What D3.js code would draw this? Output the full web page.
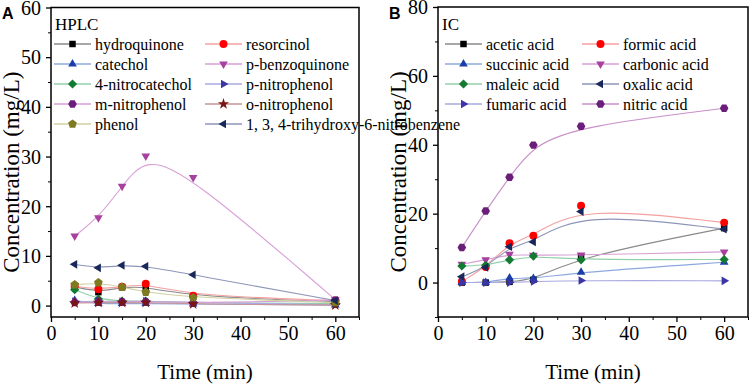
<!DOCTYPE html>
<html>
<head>
<meta charset="utf-8">
<script src="https://cdn.jsdelivr.net/npm/d3@7"></script>
<style>
  body { margin: 0; background: #fff; }
  svg { display: block; }
</style>
</head>
<body>
<svg id="chart" width="750" height="385"></svg>
<script>
// time points (min)
const timesA = [5, 10, 15, 20, 30, 60];
const timesB = [5, 10, 15, 20, 30, 60];

// panel A - HPLC (mg/L)
const hydroquinone = [3.8, 2.7, 3.7, 3.8, 1.8, 0.8];
const resorcinol = [3.9, 3.3, 3.8, 4.4, 2.0, 1.0];
const catechol = [1.0, 0.4, 0.4, 0.4, 0.3, 0.1];
const pBenzoquinone = [14.0, 17.7, 24.0, 30.1, 25.8, 1.2];
const nitrocatechol = [3.2, 1.3, 0.9, 0.9, 0.6, 0.4];
const pNitrophenol = [0.8, 0.9, 0.8, 0.9, 0.6, 0.2];
const mNitrophenol = [0.6, 0.7, 0.7, 0.8, 0.5, 1.1];
const oNitrophenol = [0.5, 0.6, 0.6, 0.6, 0.3, 0.1];
const phenol = [4.2, 4.6, 3.7, 2.7, 1.6, 0.6];
const trihydroxy = [8.3, 7.6, 8.1, 7.9, 6.2, 1.0];

// panel B - IC (mg/L)
const aceticAcid = [0, 0, 0.2, 0.8, 7.6, 15.8];
const formicAcid = [0.3, 4.5, 11.4, 13.6, 22.3, 17.4];
const succinicAcid = [0, 0, 1.3, 1.2, 3.0, 5.9];
const carbonicAcid = [5.3, 6.6, 8.2, 7.9, 8.0, 8.9];
const maleicAcid = [4.8, 5.0, 6.6, 7.7, 6.6, 6.7];
const oxalicAcid = [1.7, 4.4, 10.4, 11.8, 20.6, 15.5];
const fumaricAcid = [0, 0, 0, 0.3, 0.6, 0.5];
const nitricAcid = [10.2, 20.8, 30.6, 39.9, 45.4, 50.6];

const xTicks = [0, 10, 20, 30, 40, 50, 60];
const yTicksA = [0, 10, 20, 30, 40, 50, 60];
const yTicksB = [0, 20, 40, 60, 80];

const seriesA = [
  { name: 'hydroquinone', values: hydroquinone, shape: 'square', fill: '#000000', line: '#8a8a8a' },
  { name: 'resorcinol', values: resorcinol, shape: 'circle', fill: '#ff0000', line: '#f4a0a0' },
  { name: 'catechol', values: catechol, shape: 'up', fill: '#1a3ea8', line: '#8ea8de' },
  { name: 'p-benzoquinone', values: pBenzoquinone, shape: 'down', fill: '#a8409e', line: '#d8a0d6' },
  { name: '4-nitrocatechol', values: nitrocatechol, shape: 'diamond', fill: '#137a32', line: '#92d0aa' },
  { name: 'p-nitrophenol', values: pNitrophenol, shape: 'right', fill: '#3b35a6', line: '#aaa8e0' },
  { name: 'm-nitrophenol', values: mNitrophenol, shape: 'hex', fill: '#6b1d7a', line: '#d89ed6' },
  { name: 'o-nitrophenol', values: oNitrophenol, shape: 'star', fill: '#7a1414', line: '#c89494' },
  { name: 'phenol', values: phenol, shape: 'pent', fill: '#7d7a22', line: '#d0d0a2' },
  { name: '1, 3, 4-trihydroxy-6-nitrobenzene', values: trihydroxy, shape: 'left', fill: '#18285a', line: '#8e96b8' }
];

const seriesB = [
  { name: 'acetic acid', values: aceticAcid, shape: 'square', fill: '#000000', line: '#8a8a8a' },
  { name: 'formic acid', values: formicAcid, shape: 'circle', fill: '#ff0000', line: '#f4a0a0' },
  { name: 'succinic acid', values: succinicAcid, shape: 'up', fill: '#1a3ea8', line: '#8ea8de' },
  { name: 'carbonic acid', values: carbonicAcid, shape: 'down', fill: '#a8409e', line: '#d8a0d6' },
  { name: 'maleic acid', values: maleicAcid, shape: 'diamond', fill: '#137a32', line: '#92d0aa' },
  { name: 'oxalic acid', values: oxalicAcid, shape: 'left', fill: '#18285a', line: '#8e96b8' },
  { name: 'fumaric acid', values: fumaricAcid, shape: 'right', fill: '#3b35a6', line: '#aaa8e0' },
  { name: 'nitric acid', values: nitricAcid, shape: 'hex', fill: '#6b1d7a', line: '#c890c8' }
];

const svg = d3.select('#chart');
// one quoted family each: fallback lists did not resolve here
const SERIF = '"Liberation Serif"';
const SANS = '"Liberation Sans"';

// regular polygon marker path, r = radius, rot = start angle
function poly(n, r, rot) {
  const pts = d3.range(n).map(i => {
    const a = rot + i * 2 * Math.PI / n;
    return [r * Math.cos(a), r * Math.sin(a)];
  });
  return 'M' + pts.map(p => p.join(',')).join('L') + 'Z';
}

function markerPath(shape) {
  switch (shape) {
    case 'square': return d3.symbol(d3.symbolSquare, 42)();
    case 'circle': return d3.symbol(d3.symbolCircle, 50)();
    case 'diamond': return poly(4, 4.6, -Math.PI / 2);
    case 'star': return d3.symbol(d3.symbolStar, 40)();
    case 'up': return poly(3, 5, -Math.PI / 2);
    case 'down': return poly(3, 5, Math.PI / 2);
    case 'left': return poly(3, 5, Math.PI);
    case 'right': return poly(3, 5, 0);
    case 'hex': return poly(6, 4.3, 0);
    case 'pent': return poly(5, 4.6, -Math.PI / 2);
  }
}

function drawPanel(p) {
  const x = d3.scaleLinear().domain([0, 65]).range([p.left, p.right]);
  const y = d3.scaleLinear().domain(p.yDomain).range([p.bottom, p.top]);
  const g = svg.append('g');

  // data lines (Origin B-spline)
  const line = d3.line().x(d => x(d[0])).y(d => y(d[1])).curve(d3.curveBasis);
  p.series.forEach(s => {
    g.append('path')
      .attr('d', line(p.times.map((t, i) => [t, s.values[i]])))
      .attr('fill', 'none').attr('stroke', s.line).attr('stroke-width', 1.1);
  });
  p.series.forEach(s => {
    g.selectAll(null).data(p.times.map((t, i) => [t, s.values[i]])).enter().append('path')
      .attr('transform', d => `translate(${x(d[0])},${y(d[1])})`)
      .attr('d', markerPath(s.shape))
      .attr('fill', s.fill);
  });

  // frame
  g.append('rect')
    .attr('x', p.left).attr('y', p.top)
    .attr('width', p.right - p.left).attr('height', p.bottom - p.top)
    .attr('fill', 'none').attr('stroke', '#000').attr('stroke-width', 1.5);

  // axes
  const xAxis = g.append('g').attr('transform', `translate(0,${p.bottom})`)
    .call(d3.axisBottom(x).tickValues(xTicks).tickSize(5).tickSizeOuter(0).tickPadding(4));
  const yAxis = g.append('g').attr('transform', `translate(${p.left},0)`)
    .call(d3.axisLeft(y).tickValues(p.yTicks).tickSize(5).tickSizeOuter(0).tickPadding(5));
  [xAxis, yAxis].forEach(a => {
    a.attr('font-family', null).attr('font-size', null);
    a.select('.domain').remove();
    a.selectAll('line').attr('stroke-width', 1.3);
    a.selectAll('text').style('font-family', SERIF).style('font-size', '20px').attr('fill', '#000');
  });
  yAxis.selectAll('text').attr('dy', '0.34em');

  // minor ticks
  g.append('g').attr('transform', `translate(0,${p.bottom})`)
    .call(d3.axisBottom(x).tickValues(d3.range(5, 66, 10)).tickSize(3).tickSizeOuter(0).tickFormat(''))
    .call(a => a.select('.domain').remove());
  g.append('g').attr('transform', `translate(${p.left},0)`)
    .call(d3.axisLeft(y).tickValues(p.yMinor).tickSize(3).tickSizeOuter(0).tickFormat(''))
    .call(a => a.select('.domain').remove());

  // axis titles
  g.append('text')
    .attr('x', (p.left + p.right) / 2).attr('y', 379)
    .attr('text-anchor', 'middle')
    .style('font-family', SERIF).style('font-size', '21px').text('Time (min)');
  g.append('text')
    .attr('transform', `translate(${p.left - 32},${(p.top + p.bottom) / 2 + 10}) rotate(-90)`)
    .attr('text-anchor', 'middle')
    .style('font-family', SERIF).style('font-size', '23px').text('Concentration (mg/L)');

  // panel letter
  g.append('text')
    .attr('x', p.left - 49).attr('y', 19)
    .style('font-family', SANS).style('font-weight', 'bold').style('font-size', '16px')
    .text(p.letter);

  // legend
  g.append('text').attr('x', p.left + 4).attr('y', 30)
    .style('font-family', SERIF).style('font-size', '17px').text(p.title);
  p.series.forEach((s, i) => {
    const col = i % 2, row = Math.floor(i / 2);
    const lx = p.left + p.legendCols[col];
    const ly = 44 + row * 20;
    g.append('line')
      .attr('x1', lx).attr('x2', lx + 37).attr('y1', ly).attr('y2', ly)
      .attr('stroke', s.line).attr('stroke-width', 1.3);
    g.append('path')
      .attr('transform', `translate(${lx + 18.5},${ly})`)
      .attr('d', markerPath(s.shape)).attr('fill', s.fill);
    g.append('text')
      .attr('x', lx + 41).attr('y', ly + 5.5)
      .style('font-family', SERIF).style('font-size', '16px').text(s.name);
  });
}

drawPanel({
  letter: 'A', title: 'HPLC', times: timesA, series: seriesA,
  left: 51, right: 359, top: 7.5, bottom: 317,
  yDomain: [-2.3, 60], yTicks: yTicksA, yMinor: d3.range(5, 60, 10),
  legendCols: [3, 154]
});

drawPanel({
  letter: 'B', title: 'IC', times: timesB, series: seriesB,
  left: 438, right: 748, top: 7, bottom: 317,
  yDomain: [-10, 80], yTicks: yTicksB, yMinor: d3.range(-10, 80, 20),
  legendCols: [7, 144]
});
</script>
</body>
</html>
